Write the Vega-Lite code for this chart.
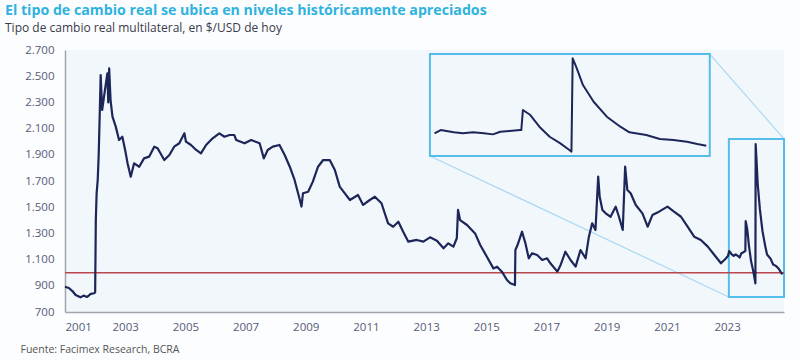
{
  "$schema": "https://vega.github.io/schema/vega-lite/v6.json",
  "width": 719,
  "height": 262,
  "autosize": {"type": "none"},
  "padding": {"left": 65, "top": 50, "right": 16, "bottom": 48},
  "background": "#fcfdfe",
  "config": {"view": {"fill": "#f2f7fb", "stroke": null}, "font": "Open Sans"},
  "title": {
    "text": "El tipo de cambio real se ubica en niveles históricamente apreciados",
    "subtitle": "Tipo de cambio real multilateral, en $/USD de hoy",
    "anchor": "start",
    "frame": "group",
    "dx": -60,
    "offset": 10,
    "color": "#2fb2e0",
    "font": "Open Sans",
    "fontSize": 14.2,
    "fontWeight": "bold",
    "subtitleFont": "Open Sans",
    "subtitleColor": "#3a3a4a",
    "subtitleFontSize": 12,
    "subtitlePadding": 5
  },
  "datasets": {
    "tcr": [
      {"d": "2001-01-01", "v": 893}, {"d": "2001-02-17", "v": 883}, {"d": "2001-04-01", "v": 860},
      {"d": "2001-05-10", "v": 830}, {"d": "2001-07-08", "v": 812}, {"d": "2001-08-15", "v": 825},
      {"d": "2001-09-27", "v": 815}, {"d": "2001-11-10", "v": 838}, {"d": "2001-12-20", "v": 843},
      {"d": "2002-01-02", "v": 850}, {"d": "2002-01-10", "v": 1402}, {"d": "2002-01-20", "v": 1608},
      {"d": "2002-02-02", "v": 1707}, {"d": "2002-02-14", "v": 1900}, {"d": "2002-02-28", "v": 2250},
      {"d": "2002-03-10", "v": 2509}, {"d": "2002-03-28", "v": 2242}, {"d": "2002-05-01", "v": 2395},
      {"d": "2002-05-30", "v": 2522}, {"d": "2002-06-10", "v": 2300}, {"d": "2002-06-21", "v": 2560},
      {"d": "2002-07-08", "v": 2318}, {"d": "2002-07-31", "v": 2191}, {"d": "2002-09-09", "v": 2115},
      {"d": "2002-10-19", "v": 2013}, {"d": "2002-11-28", "v": 2038}, {"d": "2003-01-08", "v": 1913},
      {"d": "2003-01-30", "v": 1835}, {"d": "2003-03-10", "v": 1733}, {"d": "2003-04-20", "v": 1835},
      {"d": "2003-06-21", "v": 1809}, {"d": "2003-08-18", "v": 1873}, {"d": "2003-10-19", "v": 1886},
      {"d": "2003-12-20", "v": 1962}, {"d": "2004-01-30", "v": 1950}, {"d": "2004-04-20", "v": 1860},
      {"d": "2004-06-21", "v": 1898}, {"d": "2004-08-18", "v": 1962}, {"d": "2004-10-19", "v": 1988},
      {"d": "2004-12-20", "v": 2064}, {"d": "2005-01-08", "v": 2000}, {"d": "2005-03-10", "v": 1975},
      {"d": "2005-05-12", "v": 1937}, {"d": "2005-07-09", "v": 1911}, {"d": "2005-09-09", "v": 1975},
      {"d": "2005-11-28", "v": 2026}, {"d": "2006-02-17", "v": 2064}, {"d": "2006-04-20", "v": 2038},
      {"d": "2006-06-21", "v": 2051}, {"d": "2006-08-18", "v": 2051}, {"d": "2006-09-09", "v": 2013},
      {"d": "2006-12-20", "v": 1988}, {"d": "2007-03-10", "v": 2013}, {"d": "2007-06-21", "v": 1988},
      {"d": "2007-08-11", "v": 1873}, {"d": "2007-09-27", "v": 1937}, {"d": "2007-11-28", "v": 1962},
      {"d": "2008-02-17", "v": 1975}, {"d": "2008-04-20", "v": 1898}, {"d": "2008-06-21", "v": 1809},
      {"d": "2008-08-18", "v": 1708}, {"d": "2008-10-19", "v": 1560}, {"d": "2008-11-10", "v": 1505},
      {"d": "2008-11-28", "v": 1606}, {"d": "2009-01-30", "v": 1618}, {"d": "2009-03-28", "v": 1695},
      {"d": "2009-05-30", "v": 1809}, {"d": "2009-07-31", "v": 1860}, {"d": "2009-10-19", "v": 1860},
      {"d": "2009-12-20", "v": 1784}, {"d": "2010-02-17", "v": 1657}, {"d": "2010-04-20", "v": 1606},
      {"d": "2010-06-21", "v": 1555}, {"d": "2010-09-27", "v": 1593}, {"d": "2010-11-28", "v": 1517},
      {"d": "2011-02-17", "v": 1555}, {"d": "2011-04-20", "v": 1580}, {"d": "2011-07-09", "v": 1530},
      {"d": "2011-09-27", "v": 1377}, {"d": "2011-11-28", "v": 1351}, {"d": "2012-01-30", "v": 1389},
      {"d": "2012-03-28", "v": 1313}, {"d": "2012-05-30", "v": 1237}, {"d": "2012-09-09", "v": 1250},
      {"d": "2012-11-28", "v": 1237}, {"d": "2013-02-17", "v": 1270}, {"d": "2013-05-12", "v": 1244},
      {"d": "2013-07-31", "v": 1186}, {"d": "2013-09-27", "v": 1224}, {"d": "2013-11-28", "v": 1199},
      {"d": "2014-01-08", "v": 1263}, {"d": "2014-01-23", "v": 1479}, {"d": "2014-02-17", "v": 1402},
      {"d": "2014-05-12", "v": 1364}, {"d": "2014-08-18", "v": 1300}, {"d": "2014-10-19", "v": 1211},
      {"d": "2015-01-08", "v": 1122}, {"d": "2015-03-28", "v": 1033}, {"d": "2015-05-12", "v": 1046},
      {"d": "2015-07-09", "v": 1008}, {"d": "2015-09-09", "v": 944}, {"d": "2015-10-19", "v": 919},
      {"d": "2015-12-15", "v": 906}, {"d": "2015-12-20", "v": 1173}, {"d": "2016-01-15", "v": 1211},
      {"d": "2016-03-10", "v": 1313}, {"d": "2016-04-20", "v": 1224}, {"d": "2016-05-30", "v": 1110},
      {"d": "2016-07-09", "v": 1148}, {"d": "2016-09-09", "v": 1135}, {"d": "2016-11-10", "v": 1097},
      {"d": "2017-01-08", "v": 1110}, {"d": "2017-02-17", "v": 1072}, {"d": "2017-05-12", "v": 1008},
      {"d": "2017-06-21", "v": 1059}, {"d": "2017-08-18", "v": 1160}, {"d": "2017-10-19", "v": 1097},
      {"d": "2017-12-20", "v": 1046}, {"d": "2018-02-17", "v": 1173}, {"d": "2018-04-20", "v": 1110},
      {"d": "2018-05-30", "v": 1275}, {"d": "2018-07-09", "v": 1377}, {"d": "2018-08-18", "v": 1326},
      {"d": "2018-09-20", "v": 1733}, {"d": "2018-10-08", "v": 1580}, {"d": "2018-11-10", "v": 1479},
      {"d": "2018-12-20", "v": 1453}, {"d": "2019-02-17", "v": 1427}, {"d": "2019-04-20", "v": 1504},
      {"d": "2019-05-30", "v": 1427}, {"d": "2019-07-15", "v": 1326}, {"d": "2019-08-13", "v": 1809},
      {"d": "2019-09-09", "v": 1631}, {"d": "2019-10-19", "v": 1606}, {"d": "2019-12-20", "v": 1517},
      {"d": "2020-03-10", "v": 1453}, {"d": "2020-05-12", "v": 1351}, {"d": "2020-07-09", "v": 1440},
      {"d": "2020-09-27", "v": 1466}, {"d": "2021-01-08", "v": 1504}, {"d": "2021-03-28", "v": 1466},
      {"d": "2021-06-21", "v": 1427}, {"d": "2021-09-09", "v": 1351}, {"d": "2021-11-28", "v": 1275},
      {"d": "2022-02-17", "v": 1250}, {"d": "2022-05-12", "v": 1199}, {"d": "2022-07-31", "v": 1135},
      {"d": "2022-10-19", "v": 1072}, {"d": "2022-12-20", "v": 1110},
      {"d": "2023-01-12", "v": 1128}, {"d": "2023-01-27", "v": 1165}, {"d": "2023-02-10", "v": 1154},
      {"d": "2023-02-28", "v": 1139}, {"d": "2023-03-22", "v": 1128}, {"d": "2023-04-16", "v": 1139},
      {"d": "2023-05-12", "v": 1128}, {"d": "2023-06-03", "v": 1116}, {"d": "2023-06-21", "v": 1146},
      {"d": "2023-07-13", "v": 1154}, {"d": "2023-08-08", "v": 1165}, {"d": "2023-08-11", "v": 1165},
      {"d": "2023-08-15", "v": 1393}, {"d": "2023-09-02", "v": 1336}, {"d": "2023-09-24", "v": 1203},
      {"d": "2023-10-19", "v": 1089}, {"d": "2023-11-14", "v": 1014}, {"d": "2023-12-06", "v": 938},
      {"d": "2023-12-11", "v": 919}, {"d": "2023-12-14", "v": 1981}, {"d": "2023-12-24", "v": 1867},
      {"d": "2024-01-08", "v": 1677}, {"d": "2024-02-03", "v": 1487}, {"d": "2024-03-06", "v": 1317},
      {"d": "2024-04-08", "v": 1203}, {"d": "2024-04-30", "v": 1139}, {"d": "2024-06-10", "v": 1109},
      {"d": "2024-07-13", "v": 1063}, {"d": "2024-08-15", "v": 1052}, {"d": "2024-09-17", "v": 1032},
      {"d": "2024-10-12", "v": 1006}, {"d": "2024-11-03", "v": 987}
    ],
    "boxes": [
      {"d": "2013-02-16", "d2": "2022-06-05", "v": 1891, "v2": 2669},
      {"d": "2023-01-23", "d2": "2024-11-22", "v": 815, "v2": 2021}
    ],
    "links": [
      {"d": "2022-06-05", "v": 2669, "d2": "2024-11-22", "v2": 2021},
      {"d": "2013-02-16", "v": 1891, "d2": "2023-01-23", "v2": 815}
    ],
    "ref": [
      {"d": "2001-01-01", "d2": "2024-11-22", "v": 1000}
    ]
  },
  "layer": [
    {
      "encoding": {
        "x": {
          "field": "d",
          "type": "temporal",
          "scale": {"domain": [{"year": 2001, "month": 1, "date": 1}, {"year": 2024, "month": 11, "date": 22}], "nice": false},
          "axis": {
            "values": [{"year": 2001}, {"year": 2003}, {"year": 2005}, {"year": 2007}, {"year": 2009}, {"year": 2011}, {"year": 2013}, {"year": 2015}, {"year": 2017}, {"year": 2019}, {"year": 2021}, {"year": 2023}],
            "format": "%Y",
            "ticks": false,
            "grid": false,
            "domainColor": "#a0a4ad",
            "domainWidth": 1.5,
            "labelColor": "#555b78",
            "labelFontSize": 11.5,
            "labelPadding": 9,
            "title": "Fuente: Facimex Research, BCRA",
            "titleX": -45,
            "titleY": 40,
            "titleAlign": "left",
            "titleBaseline": "alphabetic",
            "titleFontSize": 10.5,
            "titleFontWeight": "normal",
            "titleColor": "#555555"
          }
        },
        "y": {
          "field": "v",
          "type": "quantitative",
          "scale": {"domain": [700, 2700], "nice": false, "zero": false},
          "axis": {
            "values": [700, 900, 1100, 1300, 1500, 1700, 1900, 2100, 2300, 2500, 2700],
            "labelExpr": "replace(format(datum.value, ','), ',', '.')",
            "ticks": false,
            "grid": false,
            "domainColor": "#a0a4ad",
            "domainWidth": 1.5,
            "labelColor": "#555b78",
            "labelFontSize": 11.5,
            "labelPadding": 11,
            "title": null
          }
        }
      },
      "layer": [
        {
          "data": {"name": "links"},
          "mark": {"type": "rule", "color": "#a9d9f1", "strokeWidth": 1.2},
          "encoding": {"x2": {"field": "d2"}, "y2": {"field": "v2"}}
        },
        {
          "data": {"name": "boxes"},
          "mark": {"type": "rect", "fill": "#f5f9fc", "fillOpacity": 0, "stroke": "#55bde9", "strokeWidth": 2},
          "encoding": {"x2": {"field": "d2"}, "y2": {"field": "v2"}}
        },
        {
          "data": {"name": "ref"},
          "mark": {"type": "rule", "color": "#b9474f", "strokeWidth": 1.6},
          "encoding": {"x2": {"field": "d2"}}
        },
        {
          "data": {"name": "tcr"},
          "mark": {"type": "line", "color": "#1c2659", "strokeWidth": 2.2, "strokeJoin": "round"},
          "encoding": {}
        }
      ]
    },
    {
      "data": {"name": "tcr"},
      "transform": [{"filter": {"field": "d", "gte": {"year": 2023, "month": 1, "date": 1}}}],
      "mark": {"type": "line", "color": "#1c2659", "strokeWidth": 2, "strokeJoin": "round"},
      "encoding": {
        "x": {
          "field": "d",
          "type": "temporal",
          "scale": {"domain": [{"year": 2023, "month": 1, "date": 1}, {"year": 2024, "month": 11, "date": 12}], "range": [365, 645], "nice": false},
          "axis": null
        },
        "y": {
          "field": "v",
          "type": "quantitative",
          "scale": {"domain": [870, 2030], "range": [106, 4], "nice": false, "zero": false},
          "axis": null
        }
      }
    }
  ],
  "resolve": {"scale": {"x": "independent", "y": "independent"}}
}
